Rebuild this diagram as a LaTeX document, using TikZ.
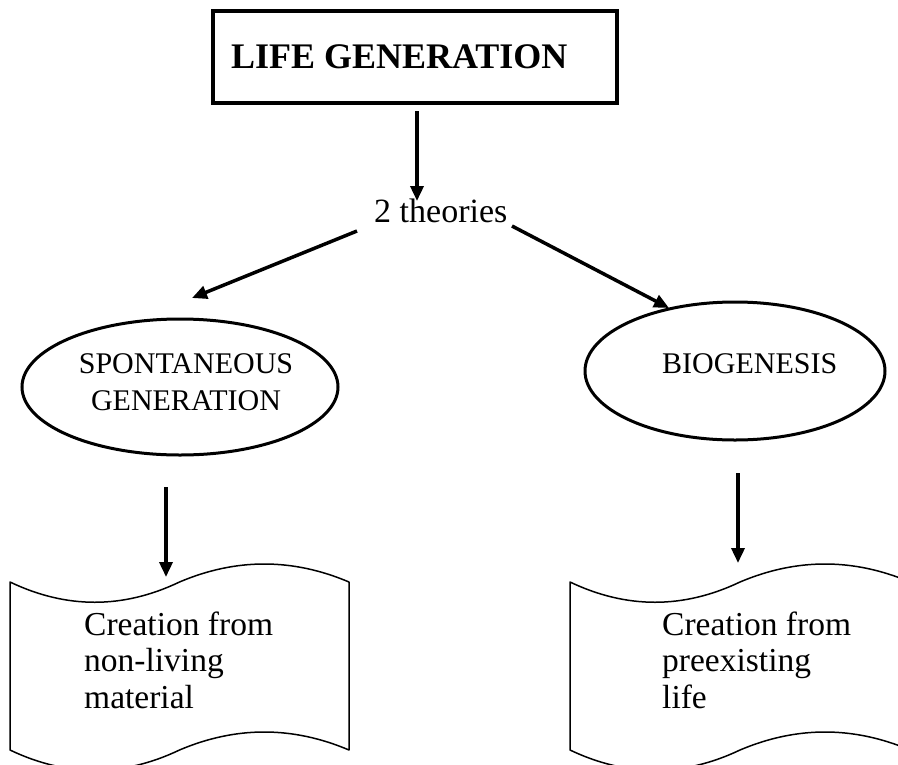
\documentclass[tikz,border=0pt]{standalone}
\usepackage{fontspec}
\setmainfont{Liberation Serif}
\usetikzlibrary{shapes.geometric,arrows.meta}
\tikzset{
  arr/.style={line width=3.5pt,-{Triangle[length=15pt,width=13pt]}},
  titlebox/.style={draw,line width=4.5pt,rectangle,inner xsep=0pt,font=\fontsize{36}{40}\selectfont\bfseries},
  ell/.style={draw,ellipse,line width=3pt,inner sep=0pt},
  txt/.style={inner sep=0pt,font=\fontsize{34}{37}\selectfont},
  captxt/.style={inner sep=0pt,align=center,font=\fontsize{30}{37}\selectfont},
  doctxt/.style={inner sep=0pt,align=left,font=\fontsize{33.5}{36.5}\selectfont},
  tape/.style={draw,line width=1.5pt,line join=round}
}
% punched-tape document outline: #1 left x, #2 width, #3 top corner y, #4 bottom corner y
\newcommand\punchtape[4]{%
  \draw[tape] (#1,#3)
    .. controls (#1+#2/6,#3+27) and (#1+#2/3,#3+27) .. (#1+#2/2,#3)
    .. controls (#1+2*#2/3,#3-24) and (#1+5*#2/6,#3-24) .. (#1+#2,#3)
    -- (#1+#2,#4)
    .. controls (#1+5*#2/6,#4-24) and (#1+2*#2/3,#4-24) .. (#1+#2/2,#4)
    .. controls (#1+#2/3,#4+27) and (#1+#2/6,#4+27) .. (#1,#4)
    -- cycle;}
\begin{document}
\begin{tikzpicture}[x=1pt,y=-1pt]
\clip (0,0) rectangle (898,764);
\fill[white] (0,0) rectangle (898,764);
% title
\node[titlebox,minimum width=404pt,minimum height=92pt] (title) at (415,57)
  {\makebox[368pt][l]{LIFE GENERATION}};
% 2 theories
\node[txt,anchor=base west] (two) at (374,222) {2 theories};
% ellipses
\node[ell,minimum width=316pt,minimum height=136pt] (sg) at (180,387) {};
\node[captxt,anchor=base] (sgt) at (186,410) {SPONTANEOUS\\GENERATION};
\node[ell,minimum width=300pt,minimum height=138pt] (bg) at (735,371) {};
\node[captxt,anchor=base west] (bgt) at (662,373) {BIOGENESIS};
% documents
\punchtape{10}{339}{582}{750}
\punchtape{570}{340}{582}{750}
\node[doctxt,anchor=base west] (d1) at (84,708) {Creation from\\non-living\\material};
\node[doctxt,anchor=base west] (d2) at (662,708) {Creation from\\preexisting\\life};
% connector end points
\coordinate (a1) at (417,111);
\coordinate (a1e) at (417,201);
\coordinate (l1) at (357,231);
\coordinate (l1e) at (192,298);
\coordinate (r1) at (512,226);
\coordinate (r1e) at (669,308);
\coordinate (l2) at (166,487);
\coordinate (l2e) at (166,577);
\coordinate (r2) at (738,473);
\coordinate (r2e) at (738,563);
\draw[arr] (a1) -- (a1e);
\draw[arr] (l1) -- (l1e);
\draw[arr] (r1) -- (r1e);
\draw[arr] (l2) -- (l2e);
\draw[arr] (r2) -- (r2e);
\end{tikzpicture}
\end{document}
